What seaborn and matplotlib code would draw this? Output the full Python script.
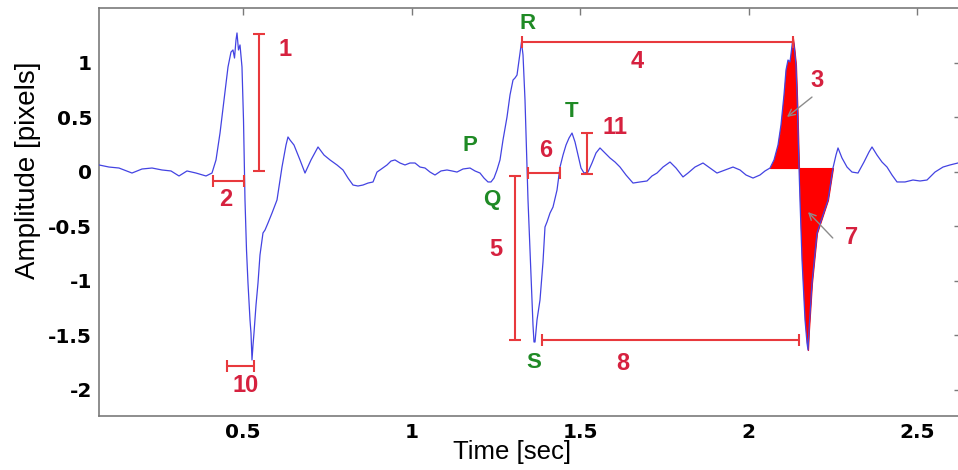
import numpy as np
import pandas as pd
import matplotlib
matplotlib.use("Agg")
import matplotlib.pyplot as plt
import seaborn as sns

# ---------------- data ----------------
time_s = [0.0727, 0.1024, 0.1320, 0.1706, 0.2003, 0.2300, 0.2596, 0.2863, 0.3101, 0.3338,
          0.3605, 0.3902, 0.4080, 0.4199, 0.4318, 0.4436, 0.4555, 0.4644, 0.4703, 0.4748,
          0.4792, 0.4822, 0.4866, 0.4911, 0.4970, 0.5015, 0.5059, 0.5104, 0.5148, 0.5208,
          0.5237, 0.5267, 0.5297, 0.5326, 0.5386, 0.5445, 0.5504, 0.5593, 0.5653, 0.5742,
          0.5861, 0.6009, 0.6157, 0.6276, 0.6335, 0.6395, 0.6513, 0.6691, 0.6840, 0.7018,
          0.7226, 0.7404, 0.7582, 0.7789, 0.7967, 0.8116, 0.8264, 0.8412, 0.8561, 0.8709,
          0.8858, 0.8976, 0.9065, 0.9184, 0.9273, 0.9392, 0.9510, 0.9659, 0.9807, 0.9955,
          1.0104, 1.0252, 1.0401, 1.0549, 1.0697, 1.0875, 1.1053, 1.1202, 1.1350, 1.1528,
          1.1736, 1.1884, 1.2033, 1.2151, 1.2270, 1.2359, 1.2448, 1.2537, 1.2626, 1.2715,
          1.2834, 1.2923, 1.3012, 1.3071, 1.3131, 1.3190, 1.3220, 1.3264, 1.3309, 1.3368,
          1.3427, 1.3457, 1.3516, 1.3576, 1.3605, 1.3635, 1.3665, 1.3724, 1.3813, 1.3902,
          1.3961, 1.4021, 1.4110, 1.4199, 1.4318, 1.4407, 1.4496, 1.4585, 1.4674, 1.4763,
          1.4852, 1.4941, 1.5030, 1.5119, 1.5237, 1.5356, 1.5475, 1.5593, 1.5742, 1.5890,
          1.6039, 1.6187, 1.6365, 1.6573, 1.6780, 1.6988, 1.7136, 1.7285, 1.7463, 1.7671,
          1.7849, 1.8056, 1.8205, 1.8412, 1.8650, 1.8858, 1.9065, 1.9303, 1.9540, 1.9748,
          1.9926, 2.0134, 2.0341, 2.0490, 2.0638, 2.0757, 2.0875, 2.0964, 2.1053, 2.1113,
          2.1172, 2.1231, 2.1276, 2.1320, 2.1365, 2.1409, 2.1454, 2.1499, 2.1528, 2.1588,
          2.1677, 2.1736, 2.1766, 2.1795, 2.1884, 2.2033, 2.2211, 2.2359, 2.2507, 2.2596,
          2.2656, 2.2774, 2.2923, 2.3071, 2.3249, 2.3427, 2.3576, 2.3665, 2.3813, 2.3961,
          2.4110, 2.4258, 2.4407, 2.4644, 2.4881, 2.5089, 2.5297, 2.5534, 2.5772, 2.5979,
          2.6217, 2.6300]
amplitude = [0.060, 0.041, 0.032, -0.014, 0.023, 0.032, 0.014, 0.005, -0.041, 0.005,
             -0.014, -0.041, -0.014, 0.106, 0.353, 0.656, 0.959, 1.096, 1.115, 1.041,
             1.206, 1.271, 1.115, 1.161, 0.959, 0.472, -0.261, -0.720, -1.023, -1.362,
             -1.482, -1.729, -1.592, -1.482, -1.225, -1.023, -0.766, -0.564, -0.537, -0.472,
             -0.381, -0.261, 0.041, 0.243, 0.317, 0.289, 0.243, 0.106, -0.014, 0.106,
             0.225, 0.151, 0.106, 0.060, 0.014, -0.060, -0.124, -0.133, -0.124, -0.106,
             -0.096, -0.005, 0.014, 0.041, 0.060, 0.096, 0.106, 0.078, 0.060, 0.078,
             0.078, 0.041, 0.032, -0.005, -0.032, 0.005, 0.014, 0.005, -0.005, 0.023,
             0.032, 0.005, -0.014, -0.060, -0.096, -0.096, -0.060, 0.014, 0.106, 0.289,
             0.500, 0.702, 0.839, 0.858, 0.885, 1.023, 1.087, 1.188, 1.069, 0.656,
             0.041, -0.261, -0.720, -1.179, -1.408, -1.564, -1.564, -1.362, -1.179, -0.830,
             -0.509, -0.463, -0.381, -0.326, -0.170, 0.041, 0.151, 0.243, 0.307, 0.353,
             0.271, 0.151, 0.032, -0.014, -0.005, 0.078, 0.170, 0.216, 0.170, 0.124,
             0.087, 0.041, -0.032, -0.106, -0.096, -0.087, -0.041, -0.014, 0.041, 0.087,
             0.032, -0.050, -0.014, 0.041, 0.078, 0.032, -0.014, 0.014, 0.041, 0.014,
             -0.032, -0.060, -0.032, 0.005, 0.032, 0.106, 0.243, 0.427, 0.702, 0.931,
             1.023, 1.005, 1.115, 1.225, 1.115, 0.977, 0.564, 0.032, -0.261, -0.812,
             -1.362, -1.573, -1.638, -1.454, -1.023, -0.564, -0.399, -0.261, 0.032, 0.151,
             0.216, 0.124, 0.041, -0.005, -0.014, 0.087, 0.179, 0.225, 0.151, 0.087,
             0.041, -0.032, -0.096, -0.096, -0.078, -0.087, -0.078, -0.005, 0.041, 0.060,
             0.078, 0.085]

# shaded beat areas (3 and 7)
fill_start, fill_end, fill_base = 2.0638, 2.2507, 0.032

# interval / amplitude bars: (label, x0, y0, x1, y1)
bar_labels = ["1", "2", "10", "4", "6", "11", "5", "8"]
bar_x0 = [0.5475, 0.4110, 0.4525, 1.3279, 1.3457, 1.5208, 1.3071, 1.3872]
bar_y0 = [1.261, -0.087, -1.784, 1.188, -0.014, 0.353, -0.041, -1.546]
bar_x1 = [0.5475, 0.5030, 0.5326, 2.1320, 1.4407, 1.5208, 1.3071, 2.1499]
bar_y1 = [0.005, -0.087, -1.784, 1.188, -0.014, -0.023, -1.546, -1.546]
label_x = [0.6246, 0.4496, 0.5089, 1.6691, 1.3991, 1.6039, 1.2507, 1.6276]
label_y = [1.115, -0.261, -1.959, 1.005, 0.197, 0.408, -0.711, -1.757]

# arrow-annotated areas
area_labels = ["3", "7"]
area_text_x = [2.2033, 2.3071]
area_text_y = [0.839, -0.601]
area_tail_x = [2.1884, 2.2501]
area_tail_y = [0.683, -0.610]
area_head_x = [2.1142, 2.1766]
area_head_y = [0.500, -0.372]

# wave names
wave_names = ["P", "Q", "R", "S", "T"]
wave_x = [1.1736, 1.2389, 1.3457, 1.3635, 1.4763]
wave_y = [0.243, -0.261, 1.362, -1.748, 0.546]

x_ticks = [0.5, 1, 1.5, 2, 2.5]
x_ticklabels = ["0.5", "1", "1.5", "2", "2.5"]
y_ticks = [1, 0.5, 0, -0.5, -1, -1.5, -2]
y_ticklabels = ["1", "0.5", "0", "-0.5", "-1", "-1.5", "-2"]

# ---------------- styling ----------------
sns.set_style("white")
plt.rcParams["font.family"] = ["Liberation Sans", "DejaVu Sans"]

BLUE = "#4343e2"
RED_LINE = "#e8393d"
RED_TEXT = "#d6213f"
GREEN = "#1f8a25"
SPINE = "#7a7a7a"

W, H = 958, 470
fig = plt.figure(figsize=(W / 100, H / 100), dpi=100)
fig.patch.set_facecolor("white")
ax = fig.add_axes([99 / W, 1 - 416 / H, 862 / W, 408 / H])

df = pd.DataFrame({"t": time_s, "a": amplitude})
t = np.asarray(time_s)
a = np.asarray(amplitude)
mask = (t >= fill_start) & (t <= fill_end)
ax.fill_between(t[mask], fill_base, a[mask], color="#ff0000", lw=0.8,
                edgecolor="#ff0000", zorder=2)

sns.lineplot(data=df, x="t", y="a", ax=ax, color=BLUE, lw=0.9, sort=False,
             estimator=None, zorder=3)

# bars with caps
for lab, x0, y0, x1, y1, lx, ly in zip(bar_labels, bar_x0, bar_y0, bar_x1, bar_y1,
                                       label_x, label_y):
    if x0 == x1:  # vertical
        ax.errorbar([x0], [(y0 + y1) / 2], yerr=[abs(y1 - y0) / 2], fmt="none",
                    ecolor=RED_LINE, elinewidth=1.5, capsize=4, capthick=1.5, zorder=4)
    else:
        ax.errorbar([(x0 + x1) / 2], [y0], xerr=[abs(x1 - x0) / 2], fmt="none",
                    ecolor=RED_LINE, elinewidth=1.5, capsize=4, capthick=1.5, zorder=4)
    ax.text(lx, ly, lab, color=RED_TEXT, fontsize=17, fontweight="bold",
            ha="center", va="center", zorder=5)

for lab, tx, ty, xt, yt, xh, yh in zip(area_labels, area_text_x, area_text_y,
                                       area_tail_x, area_tail_y, area_head_x, area_head_y):
    ax.text(tx, ty, lab, color=RED_TEXT, fontsize=17, fontweight="bold",
            ha="center", va="center", zorder=5)
    ax.annotate("", xy=(xh, yh), xytext=(xt, yt),
                arrowprops=dict(arrowstyle="->", color="#8c8c8c", lw=1.0,
                                shrinkA=0, shrinkB=0, mutation_scale=12), zorder=6)

for lab, wx, wy in zip(wave_names, wave_x, wave_y):
    ax.text(wx, wy, lab, color=GREEN, fontsize=16, fontweight="bold",
            ha="center", va="center", zorder=5)

ax.set_xlim(0.0727, 0.0727 + 862 / 337)
ax.set_ylim(-2.243, 1.5)
ax.set_xticks(x_ticks)
ax.set_xticklabels(x_ticklabels)
ax.set_yticks(y_ticks)
ax.set_yticklabels(y_ticklabels)
for lbl in ax.get_xticklabels() + ax.get_yticklabels():
    lbl.set_fontfamily("DejaVu Sans")
    lbl.set_fontweight("bold")
    lbl.set_fontsize(14.5)
ax.tick_params(axis="both", direction="in", length=5, width=1, color=SPINE,
               top=True, right=True, labelcolor="black")
ax.tick_params(axis="x", pad=5)
ax.tick_params(axis="y", pad=5)
for s in ax.spines.values():
    s.set_color(SPINE)
    s.set_linewidth(1.2)
    s.set_visible(True)

ax.set_xlabel("Time [sec]", fontsize=18.5, color="black")
ax.set_ylabel("Amplitude [pixels]", fontsize=20, color="black")
ax.xaxis.set_label_coords((512 - 99) / 862, (416 - 440) / 408)
ax.yaxis.set_label_coords((41 - 99) / 862, (416 - 170) / 408)

fig.savefig("out.png", dpi=100, facecolor="white")
